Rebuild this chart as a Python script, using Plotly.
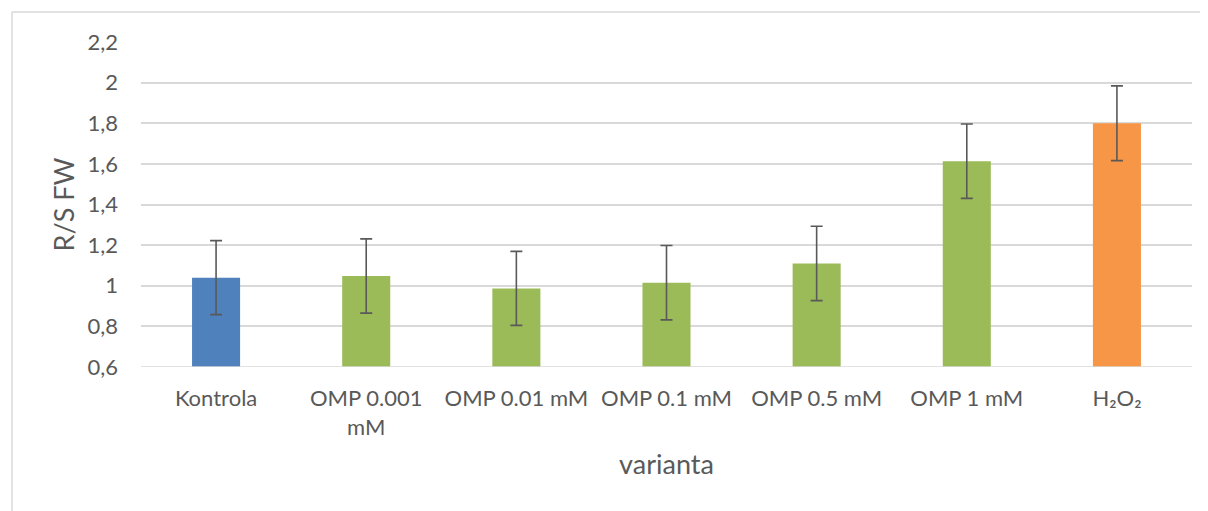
import plotly.graph_objects as go

categories = ["Kontrola", "OMP 0.001<br>mM", "OMP 0.01 mM", "OMP 0.1 mM", "OMP 0.5 mM", "OMP 1 mM", "H₂O₂"]
values = [1.04, 1.048, 0.987, 1.015, 1.11, 1.613, 1.8]
errors = [0.182, 0.183, 0.182, 0.183, 0.183, 0.183, 0.184]
bar_colors = ["#4F81BD", "#9BBB59", "#9BBB59", "#9BBB59", "#9BBB59", "#9BBB59", "#F79646"]
y_ticks = [0.6, 0.8, 1.0, 1.2, 1.4, 1.6, 1.8, 2.0, 2.2]

# page is offset by the 8px body margin
W, H = 1208, 511
L, R, T, B = 133, 24, 34, 152
pw, ph = W - L - R, H - T - B

def px_x(p):
    return (p - L) / pw

def px_y(p):
    return (H - B - p) / ph

fig = go.Figure(go.Bar(
    x=categories,
    y=values,
    marker=dict(color=bar_colors, line=dict(width=0)),
    width=0.32,
    error_y=dict(type="data", array=errors, visible=True, color="#595959", thickness=1.6, width=6),
))

border = dict(color="#D9D9D9", width=1.5)
font_family = "Lato, 'Open Sans', sans-serif"
fig.update_layout(
    width=W, height=H,
    margin=dict(l=L, r=R, t=T, b=B),
    paper_bgcolor="white", plot_bgcolor="white",
    separators=", ",
    showlegend=False,
    font=dict(family=font_family, color="#595959", size=22),
    xaxis=dict(
        title=dict(text="varianta", font=dict(size=27, color="#595959"), standoff=16),
        tickfont=dict(size=22, color="#595959"),
        showline=False, showgrid=False, ticks="", ticklabelstandoff=16,
    ),
    yaxis=dict(
        title=dict(text="R/S FW", font=dict(size=27, color="#595959"), standoff=5),
        range=[0.6, 2.2], tickvals=y_ticks,
        tickfont=dict(size=22, color="#595959"),
        showgrid=True, gridcolor="#D9D9D9", gridwidth=1.5,
        zeroline=False, showline=False, ticks="", ticklabelstandoff=22,
    ),
    shapes=[
        dict(type="line", xref="paper", yref="paper",
             x0=px_x(4), x1=px_x(1300), y0=px_y(4), y1=px_y(4), line=border, layer="below"),
        dict(type="line", xref="paper", yref="paper",
             x0=px_x(4), x1=px_x(4), y0=px_y(4), y1=px_y(600), line=border, layer="below"),
        dict(type="line", xref="paper", yref="y",
             x0=0, x1=1, y0=0.6, y1=0.6, line=border),
    ],
)

fig.write_html("out.html")
